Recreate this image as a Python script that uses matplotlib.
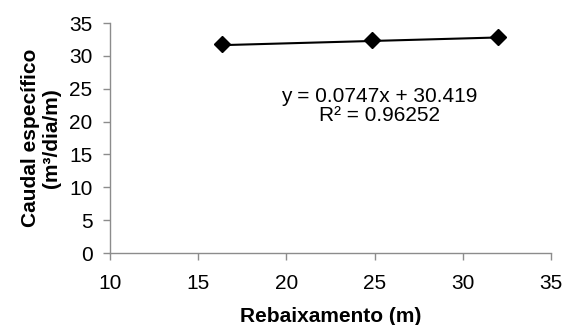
import matplotlib.pyplot as plt
import numpy as np

plt.rcParams['font.family'] = ['Liberation Sans', 'DejaVu Sans']

# Data
rebaixamento = np.array([16.33, 24.83, 32.01])
caudal_especifico = np.array([31.76, 32.39, 32.85])

# Linear trendline as printed on the chart
slope = 0.0747
intercept = 30.419
r2 = 0.96252

fig = plt.figure(figsize=(5.64, 3.25), dpi=100)
ax = fig.add_axes([0.195, 0.2215, 0.782, 0.7075])

trend_x = np.array([rebaixamento.min(), rebaixamento.max()])
ax.plot(trend_x, slope * trend_x + intercept, color='black', linewidth=1.5)
ax.plot(rebaixamento, caudal_especifico, linestyle='none', marker='D',
        markersize=8.5, color='black')

ax.set_xlim(10, 35)
ax.set_ylim(0, 35)
ax.set_xticks(np.arange(10, 36, 5))
ax.set_yticks(np.arange(0, 36, 5))

for side in ['top', 'right']:
    ax.spines[side].set_visible(False)
for side in ['left', 'bottom']:
    ax.spines[side].set_color('#8c8c8c')
    ax.spines[side].set_linewidth(1.0)
ax.tick_params(axis='both', direction='out', length=5, width=1.0,
               color='#8c8c8c', labelsize=15)
ax.tick_params(axis='x', pad=10)
ax.tick_params(axis='y', pad=7.5)

ax.set_xlabel('Rebaixamento (m)', fontsize=15, fontweight='bold', labelpad=10)
ax.set_ylabel('Caudal específico\n(m³/dia/m)', fontsize=15, fontweight='bold',
              labelpad=6, linespacing=1.15)

ax.text(25.25, 22.45, 'y = %.4fx + %.3f\nR² = %.5f' % (slope, intercept, r2),
        fontsize=15, ha='center', va='center', linespacing=1.0)

fig.savefig('out.png', dpi=100)
